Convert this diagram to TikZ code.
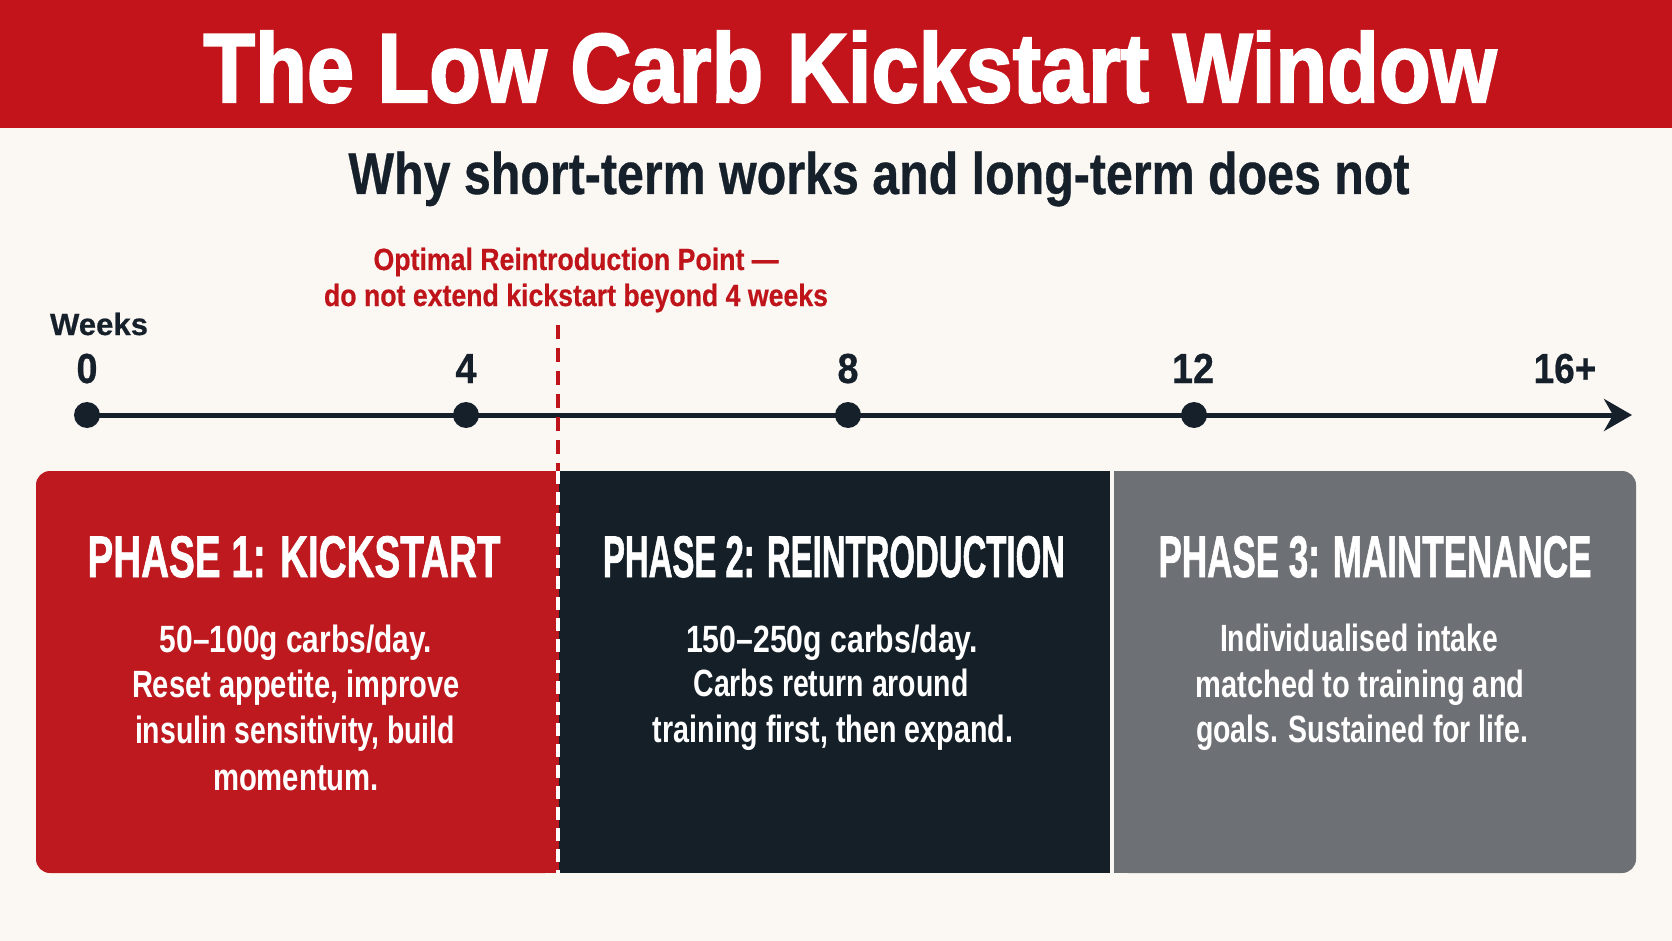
\documentclass[tikz,border=0pt]{standalone}
\usepackage{fontspec}
\setmainfont{Liberation Sans}
\newfontfamily\heavyA[FakeBold=2.2]{Liberation Sans}
\newfontfamily\heavyB[FakeBold=1.4]{Liberation Sans}
\newfontfamily\heavyC[FakeBold=0.6]{Liberation Sans}
\usepackage{graphicx}
\usetikzlibrary{arrows.meta}
\definecolor{bg}{HTML}{FBF8F4}
\definecolor{kred}{HTML}{C4141B}
\definecolor{bred}{HTML}{BD191F}
\definecolor{navy}{HTML}{141F28}
\definecolor{slate}{HTML}{6D7074}
\definecolor{ink}{HTML}{15202B}
\definecolor{nred}{HTML}{C0141B}
\newcommand\fitw[2]{\resizebox{#1pt}{\height}{#2}}
\begin{document}
\begin{tikzpicture}[x=1pt,y=-1pt,
  txt/.style={inner sep=0pt, outer sep=0pt, anchor=base},
  titlefont/.style={font=\heavyA\fontsize{98}{110}\selectfont\bfseries},
  subfont/.style={font=\heavyC\fontsize{58.7}{66}\selectfont\bfseries},
  notefont/.style={font=\heavyC\fontsize{30.7}{36}\selectfont\bfseries},
  numfont/.style={font=\heavyC\fontsize{42}{48}\selectfont\bfseries},
  phasefont/.style={font=\heavyB\fontsize{58.7}{66}\selectfont\bfseries},
  bodyfont/.style={font=\fontsize{38}{46}\selectfont\bfseries},
  dot/.style={circle, fill=ink, minimum size=26pt, inner sep=0pt},
  timeline/.style={ink, line width=5pt, -{Stealth[length=28pt,width=32pt,inset=9pt]}},
]
\useasboundingbox (0,0) rectangle (1672,941);
\fill[bg] (0,0) rectangle (1672,941);
% title bar
\fill[kred] (0,0) rectangle (1672,128);
\node[txt, titlefont, text=white] (title) at (850,102) {\fitw{1293}{The Low Carb Kickstart Window}};
\node[txt, subfont, text=ink] (sub) at (879,194) {\fitw{1061}{Why short-term works and long-term does not}};
% note
\node[txt, notefont, text=nred] (note1) at (576,270) {\fitw{405}{Optimal Reintroduction Point —}};
\node[txt, notefont, text=nred] (note2) at (576,306) {\fitw{504}{do not extend kickstart beyond 4 weeks}};
% weeks axis
\node[txt, anchor=base west, notefont, text=ink] (weeks) at (50,335) {\fitw{98}{Weeks}};
\node[txt, numfont, text=ink] (l0) at (87,383) {\scalebox{0.9}[1]{0}};
\node[txt, numfont, text=ink] (l4) at (466,383) {\scalebox{0.9}[1]{4}};
\node[txt, numfont, text=ink] (l8) at (848,383) {\scalebox{0.9}[1]{8}};
\node[txt, numfont, text=ink] (l12) at (1193,383) {\scalebox{0.9}[1]{12}};
\node[txt, numfont, text=ink] (l16) at (1565,383) {\scalebox{0.88}[1]{16+}};
\node[dot] (d0) at (87,415) {};
\node[dot] (d4) at (466,415) {};
\node[dot] (d8) at (848,415) {};
\node[dot] (d12) at (1194,415) {};
\coordinate (tip) at (1632,415);
\draw[timeline] (d0.center) -- (tip);
% boxes
\fill[bred, rounded corners=14pt] (36,471) rectangle (559,873);
\fill[bred] (300,471) rectangle (559,873);
\fill[navy] (559,471) rectangle (1110,873);
\fill[slate, rounded corners=14pt] (1114,471) rectangle (1636,873);
\fill[slate] (1114,471) rectangle (1300,873);
% reintroduction marker
\coordinate (dtop) at (558,325);
\coordinate (dmid) at (558,471);
\coordinate (dbot) at (558,873);
\draw[nred, line width=4pt, dash pattern=on 14pt off 9pt] (dtop) -- (dmid);
\draw[white, line width=4pt, dash pattern=on 13pt off 8pt] (dmid) -- (dbot);
% phase titles
\node[txt, phasefont, text=white] (p1) at (294,577) {\fitw{413}{PHASE 1: KICKSTART}};
\node[txt, phasefont, text=white] (p2) at (834,577) {\fitw{462}{PHASE 2: REINTRODUCTION}};
\node[txt, phasefont, text=white] (p3) at (1375,577) {\fitw{433}{PHASE 3: MAINTENANCE}};
% phase 1 body
\node[txt, bodyfont, text=white] (b1a) at (296,652) {\fitw{272}{50–100g carbs/day.}};
\node[txt, bodyfont, text=white] (b1b) at (296,697) {\fitw{328}{Reset appetite, improve}};
\node[txt, bodyfont, text=white] (b1c) at (295,743) {\fitw{320}{insulin sensitivity, build}};
\node[txt, bodyfont, text=white] (b1d) at (296,790) {\fitw{166}{momentum.}};
% phase 2 body
\node[txt, bodyfont, text=white] (b2a) at (832,652) {\fitw{292}{150–250g carbs/day.}};
\node[txt, bodyfont, text=white] (b2b) at (831,696) {\fitw{275}{Carbs return around}};
\node[txt, bodyfont, text=white] (b2c) at (833,742) {\fitw{360}{training first, then expand.}};
% phase 3 body
\node[txt, bodyfont, text=white] (b3a) at (1359,651) {\fitw{278}{Individualised intake}};
\node[txt, bodyfont, text=white] (b3b) at (1360,697) {\fitw{329}{matched to training and}};
\node[txt, bodyfont, text=white] (b3c) at (1362,742) {\fitw{332}{goals. Sustained for life.}};
\end{tikzpicture}
\end{document}
